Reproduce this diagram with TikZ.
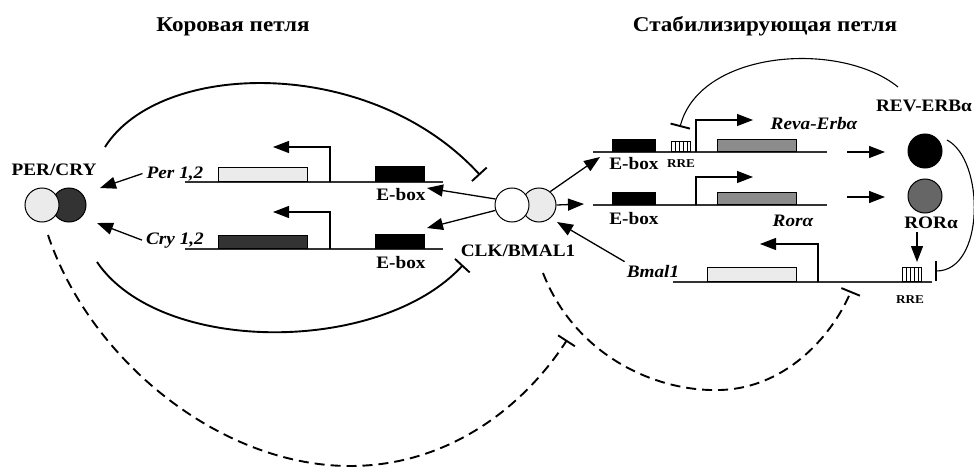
\documentclass[tikz,border=0pt]{standalone}
\usepackage{fontspec}
\setmainfont{Liberation Serif}[FakeStretch=1.1]
\usetikzlibrary{arrows.meta,calc}

\begin{document}
\begin{tikzpicture}[x=1pt,y=-1pt,
  lbl/.style={font=\bfseries\fontsize{17.5}{17.5}\selectfont,inner sep=0pt,anchor=base},
  gname/.style={font=\bfseries\itshape\fontsize{17.5}{17.5}\selectfont,inner sep=0pt,anchor=base},
  ttl/.style={font=\bfseries\fontsize{21}{21}\selectfont,inner sep=0pt,anchor=base},
  rrelbl/.style={font=\bfseries\fontsize{12}{12}\selectfont,inner sep=0pt,anchor=base},
  dna/.style={line width=1.2pt,black!80},
  gbox/.style={draw,line width=0.8pt,inner sep=0pt,anchor=south west},
  ebox/.style={gbox,fill=black,minimum width=49pt},
  rrebox/.style={gbox,fill=white,minimum width=19pt},
  prom/.style={line width=1.2pt,-{Triangle[length=16pt,width=12pt]}},
  act/.style={line width=1.3pt,-{Triangle[length=16pt,width=12pt]}},
  inh/.style={line width=1.9pt,-{Bar[width=20pt,line width=1.9pt]}},
  loopinh/.style={inh,dash pattern=on 10pt off 6pt},
  prot/.style={circle,draw,line width=1pt,minimum size=34pt,inner sep=0pt}]
  \useasboundingbox (0,0) rectangle (974,468);

  \node[ttl] (core) at (233,32) {Коровая петля};
  \node[ttl] (stab) at (765,32) {Стабилизирующая петля};

  \node[prot,fill=black!80] (cry) at (69,205) {};
  \node[prot,fill=black!8] (per) at (42,205) {};
  \node[lbl] (percry) at (54,175) {PER/CRY};

  \draw[dna] (185,182) coordinate (perL) -- (443,182) coordinate (perR);
  \node[gbox,fill=black!8,minimum width=89pt,minimum height=14pt] (perbox) at (218,182) {};
  \node[ebox,minimum height=15pt] (pereb) at (375,182) {};
  \coordinate (perp) at (330,182);
  \draw[prom] (perp) -- ++(0,-35) -- ++(-57,0);
  \node[gname] (pergene) at (175,178) {Per 1,2};
  \node[lbl] (perebl) at (401,200) {E-box};

  \draw[dna] (185,249) coordinate (cryL) -- (443,249) coordinate (cryR);
  \node[gbox,fill=black!80,minimum width=89pt,minimum height=13pt] (crybox) at (218,249) {};
  \node[ebox,minimum height=14pt] (cryeb) at (375,249) {};
  \coordinate (cryp) at (330,249);
  \draw[prom] (cryp) -- ++(0,-37) -- ++(-57,0);
  \node[gname] (crygene) at (175,244) {Cry 1,2};
  \node[lbl] (cryebl) at (401,268) {E-box};

  \node[prot,fill=black!8] (bmal) at (539,205) {};
  \node[prot,fill=white] (clk) at (512,205) {};
  \node[lbl] (clkbmal) at (518,256) {CLK/BMAL1};

  \draw[dna] (593,152) coordinate (revL) -- (827,152) coordinate (revR);
  \node[ebox,minimum height=12pt,minimum width=43pt] (reveb) at (612,152) {};
  \node[rrebox,minimum height=10pt] (revrre) at (671,152) {};
  \foreach \k in {0.2,0.4,0.6,0.8}
    \draw[line width=0.6pt] ($(revrre.south west)!\k!(revrre.south east)$) -- ($(revrre.north west)!\k!(revrre.north east)$);
  \node[gbox,fill=black!45,minimum width=79pt,minimum height=12pt] (revbox) at (717,152) {};
  \coordinate (revp) at (696,152);
  \draw[prom] (revp) -- ++(0,-32) -- ++(57,0);
  \node[lbl] (revebl) at (634,169) {E-box};
  \node[rrelbl] (revrrel) at (681,167) {RRE};
  \node[gname] (revgene) at (814,129) {Reva-Erbα};

  \draw[dna] (593,205) coordinate (rorL) -- (827,205) coordinate (rorR);
  \node[ebox,minimum height=12pt,minimum width=43pt] (roreb) at (612,205) {};
  \node[gbox,fill=black!45,minimum width=79pt,minimum height=12pt] (rorbox) at (717,205) {};
  \coordinate (rorp) at (696,205);
  \draw[prom] (rorp) -- ++(0,-28) -- ++(57,0);
  \node[lbl] (rorebl) at (634,224) {E-box};
  \node[gname] (rorgene) at (793,226) {Rorα};

  \node[prot,fill=black] (rev) at (925,151) {};
  \node[lbl] (revl) at (924,112) {REV-ERBα};
  \node[prot,fill=black!60] (ror) at (925,196) {};
  \node[lbl] (rorl) at (931,228) {RORα};

  \draw[dna] (673,282) coordinate (bmL) -- (932,282) coordinate (bmR);
  \node[gbox,fill=black!8,minimum width=89pt,minimum height=14pt] (bmbox) at (707,282) {};
  \node[rrebox,minimum height=14pt] (bmrre) at (902,282) {};
  \foreach \k in {0.2,0.4,0.6,0.8}
    \draw[line width=0.6pt] ($(bmrre.south west)!\k!(bmrre.south east)$) -- ($(bmrre.north west)!\k!(bmrre.north east)$);
  \coordinate (bmp) at (818,282);
  \draw[prom] (bmp) -- ++(0,-38) -- ++(-58,0);
  \node[gname] (bmgene) at (653,277) {Bmal1};
  \node[rrelbl] (bmrrel) at (910,303) {RRE};

  \coordinate (pertip) at (100,188);
  \coordinate (crytip) at (97,223);
  \coordinate (pereb1) at (427,188);
  \coordinate (cryeb1) at (427,228);
  \coordinate (reveb1) at (600,157);
  \coordinate (roreb1) at (584,204);
  \coordinate (clk1) at (557,222);
  \coordinate (revout) at (847,152);
  \coordinate (revin) at (885,152);
  \coordinate (rorout) at (847,197);
  \coordinate (rorin) at (885,197);
  \coordinate (rrein) at (917,262);

  \draw[act] ([xshift=-4pt]pergene.west) -- (pertip);
  \draw[act] ([xshift=-4pt]crygene.west) -- (crytip);
  \draw[act] (clk.160) -- (pereb1);
  \draw[act] (clk.198) -- (cryeb1);
  \draw[act] (bmal.50) -- (reveb1);
  \draw[act] (bmal.east) -- (roreb1);
  \draw[act] ([shift={(-2,-3)}]bmgene.north west) -- (clk1);
  \draw[act] (revout) -- (revin);
  \draw[act] (rorout) -- (rorin);
  \draw[act] ([yshift=-4pt]rorl.south -| rrein) -- (rrein);

  \draw[inh] (105,147) .. controls (160,60) and (370,55) .. (480,175);
  \draw[inh] (97,262) .. controls (160,355) and (380,355) .. (463,265);
  \draw[inh,line width=1.1pt] (898,87) .. controls (840,40) and (700,50) .. (680,127);
  \draw[inh,line width=1.1pt] (947,140) .. controls (985,160) and (985,271) .. (935,271);
  \draw[loopinh] (48,235) .. controls (90,360) and (220,466) .. (350,466) .. controls (450,466) and (525,405) .. (567,340);
  \draw[loopinh] (543,273) .. controls (575,355) and (655,392) .. (720,390) .. controls (790,388) and (835,330) .. (851,291);
\end{tikzpicture}
\end{document}
